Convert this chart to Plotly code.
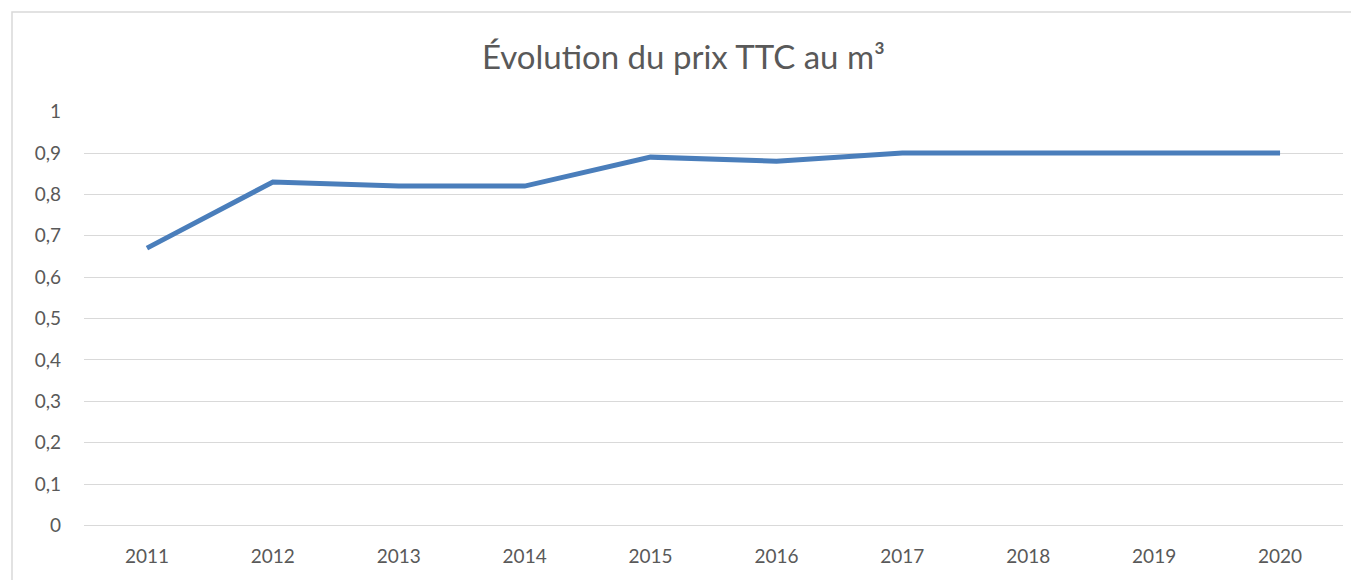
import plotly.graph_objects as go

years = ["2011", "2012", "2013", "2014", "2015", "2016", "2017", "2018", "2019", "2020"]
prix = [0.67, 0.83, 0.82, 0.82, 0.89, 0.88, 0.90, 0.90, 0.90, 0.90]
y_ticks = [0, 0.1, 0.2, 0.3, 0.4, 0.5, 0.6, 0.7, 0.8, 0.9, 1]
y_labels = ["0", "0,1", "0,2", "0,3", "0,4", "0,5", "0,6", "0,7", "0,8", "0,9", "1"]

# page body has an 8px margin
W, H = 1351, 572
L, R, T, B = 76, 16, 103, 54
pw, ph = W - L - R, H - T - B

fig = go.Figure()
fig.add_trace(go.Scatter(
    x=years, y=prix, mode="lines",
    line=dict(color="#4a7ebb", width=5),
    showlegend=False, hoverinfo="x+y",
))

font = "Lato, 'Open Sans', sans-serif"
fig.update_layout(
    width=W, height=H,
    margin=dict(l=L, r=R, t=T, b=B),
    paper_bgcolor="white", plot_bgcolor="white",
    title=dict(text="Évolution du prix TTC au m³", x=0.5, xanchor="center",
               y=1 - 49 / H, yanchor="middle",
               font=dict(family=font, size=33, color="#595959")),
    font=dict(family=font, color="#595959"),
    xaxis=dict(type="category", showgrid=False, zeroline=False, showline=False,
               ticks="", tickfont=dict(size=19, color="#595959"),
               range=[-0.5, len(years) - 0.5], ticklabelstandoff=17),
    yaxis=dict(range=[-0.0015, 1.0015], tickvals=y_ticks, ticktext=y_labels,
               showgrid=True, gridcolor="#d9d9d9", gridwidth=1.3,
               zeroline=True, zerolinecolor="#d9d9d9", zerolinewidth=1.3,
               showline=False, ticks="",
               tickfont=dict(size=19, color="#595959"), ticklabelstandoff=22),
    shapes=[dict(type="rect", xref="paper", yref="paper",
                 x0=(4 - L) / pw, x1=(W + 40 - L) / pw,
                 y0=-(B + 40) / ph, y1=(H - 4 - B) / ph,
                 line=dict(color="#d9d9d9", width=1.5), layer="below")],
)

fig.write_html("out.html",
               post_script="document.documentElement.style.overflow='hidden';"
                           "document.body.style.overflow='hidden';")
